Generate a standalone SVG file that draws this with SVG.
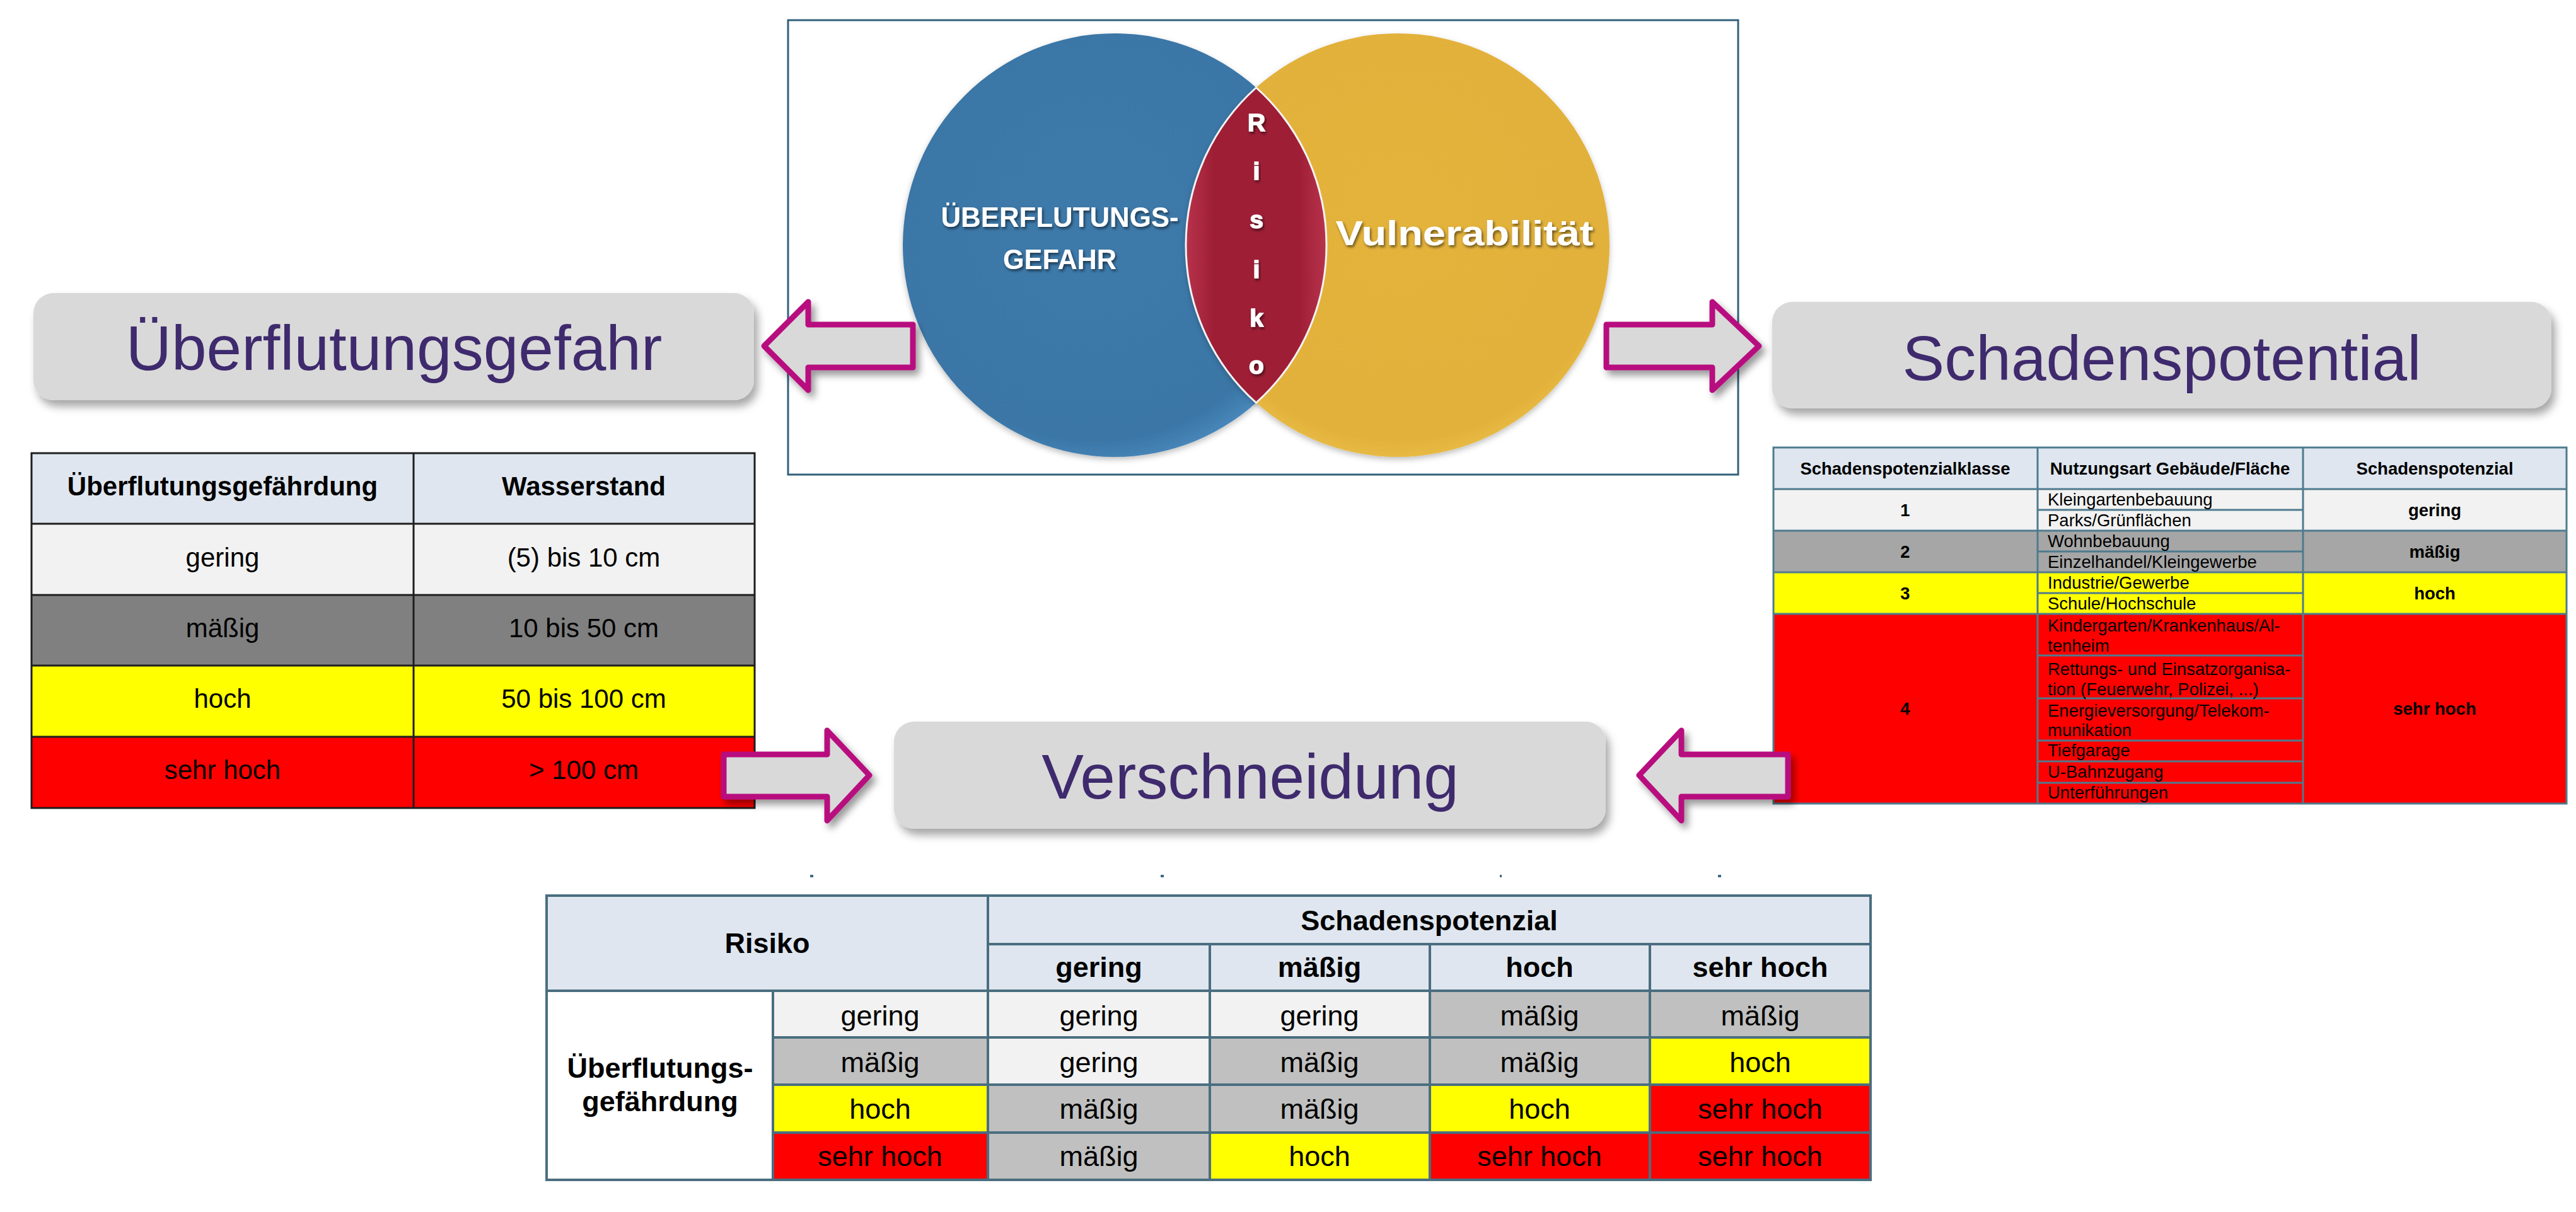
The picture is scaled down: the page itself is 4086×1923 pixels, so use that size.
<svg xmlns="http://www.w3.org/2000/svg" width="4086" height="1923" viewBox="0 0 4086 1923">
<defs>
<filter id="boxsh" x="-5%" y="-10%" width="115%" height="140%"><feDropShadow dx="6" dy="10" stdDeviation="7" flood-color="#000" flood-opacity="0.35"/></filter>
<filter id="arrsh" x="-15%" y="-20%" width="140%" height="150%"><feDropShadow dx="6" dy="8" stdDeviation="6" flood-color="#000" flood-opacity="0.4"/></filter>
<filter id="txtsh" x="-10%" y="-30%" width="120%" height="160%"><feDropShadow dx="2" dy="3" stdDeviation="2" flood-color="#000" flood-opacity="0.55"/></filter>
<filter id="circsh" x="-10%" y="-10%" width="120%" height="120%"><feDropShadow dx="0" dy="4" stdDeviation="5" flood-color="#000" flood-opacity="0.25"/></filter>
<radialGradient id="gblue" cx="45%" cy="45%" r="60%"><stop offset="0" stop-color="#3d7aaa"/><stop offset="0.85" stop-color="#3a76a6"/><stop offset="1" stop-color="#4f8fc4"/></radialGradient>
<radialGradient id="gorange" cx="50%" cy="45%" r="60%"><stop offset="0" stop-color="#e4b33b"/><stop offset="0.85" stop-color="#e2b13a"/><stop offset="1" stop-color="#eec652"/></radialGradient>
<linearGradient id="glens" x1="0" y1="0" x2="1" y2="0"><stop offset="0" stop-color="#b8334c"/><stop offset="0.2" stop-color="#9e1e36"/><stop offset="0.8" stop-color="#9e1e36"/><stop offset="1" stop-color="#b8334c"/></linearGradient>
<style>
.title{font-family:"Liberation Sans",Arial,sans-serif;font-size:100px;fill:#3e2a6d;text-anchor:middle}
.tbox{fill:#d9d9d9;filter:url(#boxsh)}
.arrow{fill:#d9d9d9;stroke:#b80f7f;stroke-width:9;stroke-linejoin:round;filter:url(#arrsh)}
.t{font-family:"Liberation Sans",Arial,sans-serif;fill:#000;text-anchor:middle}
.b{font-weight:bold}
.l{text-anchor:start}
.s42{font-size:42px}
.s27{font-size:27.5px}
.s45{font-size:45px}
.vt{font-family:"Liberation Sans Narrow","Liberation Sans",Arial,sans-serif;font-weight:bold;fill:#fff;text-anchor:middle;filter:url(#txtsh)}
.rk{font-size:39px;stroke:#fff;stroke-width:1.5}
.lt{stroke:#1e1e1e;stroke-width:3;fill:none}
.rt{stroke:#4e7b8e;stroke-width:3;fill:none}
.bt{stroke:#4a6e80;stroke-width:4;fill:none}
</style>
</defs>
<rect width="4086" height="1923" fill="#fff"/>

<g id="venn">
<rect x="1250" y="32" width="1507" height="721" fill="#fff" stroke="#31617b" stroke-width="3"/>
<circle cx="1768" cy="389" r="336" fill="url(#gblue)" filter="url(#circsh)"/>
<circle cx="2217" cy="389" r="336" fill="url(#gorange)" filter="url(#circsh)"/>
<path d="M1992.5 139 A336 336 0 0 1 1992.5 639 A336 336 0 0 1 1992.5 139 Z" fill="url(#glens)" stroke="#f4f4f4" stroke-width="3"/>
<text class="vt" x="1681" y="360" font-size="45" textLength="377" lengthAdjust="spacingAndGlyphs">ÜBERFLUTUNGS-</text>
<text class="vt" x="1681" y="427" font-size="45" textLength="180" lengthAdjust="spacingAndGlyphs">GEFAHR</text>
<text class="vt" x="2323" y="389" font-size="55" textLength="409" lengthAdjust="spacingAndGlyphs">Vulnerabilität</text>
<text class="vt rk" x="1993" y="208">R</text>
<text class="vt rk" x="1993" y="285">i</text>
<text class="vt rk" x="1993" y="362">s</text>
<text class="vt rk" x="1993" y="441">i</text>
<text class="vt rk" x="1993" y="518">k</text>
<text class="vt rk" x="1993" y="593">o</text>
</g>

<g id="title-ueberflutungsgefahr">
<rect class="tbox" x="53" y="465" width="1143" height="170" rx="32"/>
<text class="title" x="625" y="587">Überflutungsgefahr</text>
</g>

<g id="title-schadenspotential">
<rect class="tbox" x="2811" y="479" width="1236" height="169" rx="32"/>
<text class="title" x="3429" y="603">Schadenspotential</text>
</g>

<g id="title-verschneidung">
<rect class="tbox" x="1418" y="1145" width="1129" height="170" rx="32"/>
<text class="title" x="1983" y="1267">Verschneidung</text>
</g>

<g id="table-ueberflutung">
<rect x="50" y="719" width="1147" height="112" fill="#dfe6ef"/>
<rect x="50" y="831" width="1147" height="113" fill="#f2f2f2"/>
<rect x="50" y="944" width="1147" height="112" fill="#808080"/>
<rect x="50" y="1056" width="1147" height="113" fill="#ffff00"/>
<rect x="50" y="1169" width="1147" height="113" fill="#ff0000"/>
<path class="lt" d="M50 719H1197V1282H50Z M50 831H1197 M50 944H1197 M50 1056H1197 M50 1169H1197 M656 719V1282"/>
<text class="t b s42" x="353" y="786">Überflutungsgefährdung</text>
<text class="t b s42" x="926" y="786">Wasserstand</text>
<text class="t s42" x="353" y="899">gering</text>
<text class="t s42" x="926" y="899">(5) bis 10 cm</text>
<text class="t s42" x="353" y="1011">mäßig</text>
<text class="t s42" x="926" y="1011">10 bis 50 cm</text>
<text class="t s42" x="353" y="1123">hoch</text>
<text class="t s42" x="926" y="1123">50 bis 100 cm</text>
<text class="t s42" x="353" y="1236">sehr hoch</text>
<text class="t s42" x="926" y="1236">&gt; 100 cm</text>
</g>

<g id="table-schadenspotenzial">
<rect x="2813" y="710" width="1258" height="66" fill="#dfe6ef"/>
<rect x="2813" y="776" width="1258" height="66" fill="#f2f2f2"/>
<rect x="2813" y="842" width="1258" height="66" fill="#a6a6a6"/>
<rect x="2813" y="908" width="1258" height="66" fill="#ffff00"/>
<rect x="2813" y="974" width="1258" height="301" fill="#ff0000"/>
<path class="rt" d="M2813 710H4071V1275H2813Z M2813 776H4071 M2813 842H4071 M2813 908H4071 M2813 974H4071 M3232 710V1275 M3653 710V1275 M3232 809H3653 M3232 875H3653 M3232 941H3653 M3232 1040H3653 M3232 1108H3653 M3232 1175H3653 M3232 1208H3653 M3232 1242H3653"/>
<text class="t b s27" x="3022" y="753">Schadenspotenzialklasse</text>
<text class="t b s27" x="3442" y="753">Nutzungsart Gebäude/Fläche</text>
<text class="t b s27" x="3862" y="753">Schadenspotenzial</text>
<text class="t b s27" x="3022" y="819">1</text>
<text class="t b s27" x="3022" y="885">2</text>
<text class="t b s27" x="3022" y="951">3</text>
<text class="t b s27" x="3022" y="1134">4</text>
<text class="t b s27" x="3862" y="819">gering</text>
<text class="t b s27" x="3862" y="885">mäßig</text>
<text class="t b s27" x="3862" y="951">hoch</text>
<text class="t b s27" x="3862" y="1134">sehr hoch</text>
<text class="t l s27" x="3248" y="802">Kleingartenbebauung</text>
<text class="t l s27" x="3248" y="835">Parks/Grünflächen</text>
<text class="t l s27" x="3248" y="868">Wohnbebauung</text>
<text class="t l s27" x="3248" y="901">Einzelhandel/Kleingewerbe</text>
<text class="t l s27" x="3248" y="934">Industrie/Gewerbe</text>
<text class="t l s27" x="3248" y="967">Schule/Hochschule</text>
<text class="t l s27" x="3248" y="1002">Kindergarten/Krankenhaus/Al-</text>
<text class="t l s27" x="3248" y="1034">tenheim</text>
<text class="t l s27" x="3248" y="1071">Rettungs- und Einsatzorganisa-</text>
<text class="t l s27" x="3248" y="1103">tion (Feuerwehr, Polizei, ...)</text>
<text class="t l s27" x="3248" y="1137">Energieversorgung/Telekom-</text>
<text class="t l s27" x="3248" y="1168">munikation</text>
<text class="t l s27" x="3248" y="1200">Tiefgarage</text>
<text class="t l s27" x="3248" y="1234">U-Bahnzugang</text>
<text class="t l s27" x="3248" y="1267">Unterführungen</text>
</g>

<g id="marks" fill="#3f6a86">
<rect x="1285" y="1388" width="5" height="4"/>
<rect x="1841" y="1388" width="5" height="4"/>
<rect x="2379" y="1388" width="3" height="4"/>
<rect x="2725" y="1388" width="5" height="4"/>
</g>

<g id="table-risiko">
<rect x="867" y="1421" width="2100" height="151" fill="#dfe6ef"/>
<rect x="867" y="1572" width="359" height="300" fill="#fff"/>
<rect x="1226" y="1572" width="341" height="74" fill="#f2f2f2"/>
<rect x="1226" y="1646" width="341" height="75" fill="#c0c0c0"/>
<rect x="1226" y="1721" width="341" height="76" fill="#ffff00"/>
<rect x="1226" y="1797" width="341" height="75" fill="#ff0000"/>
<rect x="1567" y="1572" width="352" height="74" fill="#f2f2f2"/>
<rect x="1919" y="1572" width="349" height="74" fill="#f2f2f2"/>
<rect x="2268" y="1572" width="349" height="74" fill="#c0c0c0"/>
<rect x="2617" y="1572" width="350" height="74" fill="#c0c0c0"/>
<rect x="1567" y="1646" width="352" height="75" fill="#f2f2f2"/>
<rect x="1919" y="1646" width="349" height="75" fill="#c0c0c0"/>
<rect x="2268" y="1646" width="349" height="75" fill="#c0c0c0"/>
<rect x="2617" y="1646" width="350" height="75" fill="#ffff00"/>
<rect x="1567" y="1721" width="352" height="76" fill="#c0c0c0"/>
<rect x="1919" y="1721" width="349" height="76" fill="#c0c0c0"/>
<rect x="2268" y="1721" width="349" height="76" fill="#ffff00"/>
<rect x="2617" y="1721" width="350" height="76" fill="#ff0000"/>
<rect x="1567" y="1797" width="352" height="75" fill="#c0c0c0"/>
<rect x="1919" y="1797" width="349" height="75" fill="#ffff00"/>
<rect x="2268" y="1797" width="349" height="75" fill="#ff0000"/>
<rect x="2617" y="1797" width="350" height="75" fill="#ff0000"/>
<path class="bt" d="M867 1421H2967V1872H867Z M1567 1421V1872 M1567 1498H2967 M867 1572H2967 M1226 1646H2967 M1226 1721H2967 M1226 1797H2967 M1226 1572V1872 M1919 1498V1872 M2268 1498V1872 M2617 1498V1872"/>
<text class="t b s45" x="1217" y="1512">Risiko</text>
<text class="t b s45" x="2267" y="1476">Schadenspotenzial</text>
<text class="t b s45" x="1743" y="1550">gering</text>
<text class="t b s45" x="2093" y="1550">mäßig</text>
<text class="t b s45" x="2442" y="1550">hoch</text>
<text class="t b s45" x="2792" y="1550">sehr hoch</text>
<text class="t b s45" x="1047" y="1710">Überflutungs-</text>
<text class="t b s45" x="1047" y="1763">gefährdung</text>
<text class="t s45" x="1396" y="1627">gering</text>
<text class="t s45" x="1396" y="1701">mäßig</text>
<text class="t s45" x="1396" y="1775">hoch</text>
<text class="t s45" x="1396" y="1850">sehr hoch</text>
<text class="t s45" x="1743" y="1627">gering</text>
<text class="t s45" x="2093" y="1627">gering</text>
<text class="t s45" x="2442" y="1627">mäßig</text>
<text class="t s45" x="2792" y="1627">mäßig</text>
<text class="t s45" x="1743" y="1701">gering</text>
<text class="t s45" x="2093" y="1701">mäßig</text>
<text class="t s45" x="2442" y="1701">mäßig</text>
<text class="t s45" x="2792" y="1701">hoch</text>
<text class="t s45" x="1743" y="1775">mäßig</text>
<text class="t s45" x="2093" y="1775">mäßig</text>
<text class="t s45" x="2442" y="1775">hoch</text>
<text class="t s45" x="2792" y="1775">sehr hoch</text>
<text class="t s45" x="1743" y="1850">mäßig</text>
<text class="t s45" x="2093" y="1850">hoch</text>
<text class="t s45" x="2442" y="1850">sehr hoch</text>
<text class="t s45" x="2792" y="1850">sehr hoch</text>
</g>

<g id="connectors">
<polygon class="arrow" points="1212,549 1282,479 1282,515 1448,515 1448,583 1282,583 1282,619"/>
<polygon class="arrow" points="2790,549 2716,479 2716,515 2548,515 2548,583 2716,583 2716,619"/>
<polygon class="arrow" points="1148,1197 1312,1197 1312,1159 1379,1230 1312,1302 1312,1264 1148,1264"/>
<polygon class="arrow" points="2600,1230 2667,1159 2667,1197 2836,1197 2836,1264 2667,1264 2667,1302"/>
</g>
</svg>
